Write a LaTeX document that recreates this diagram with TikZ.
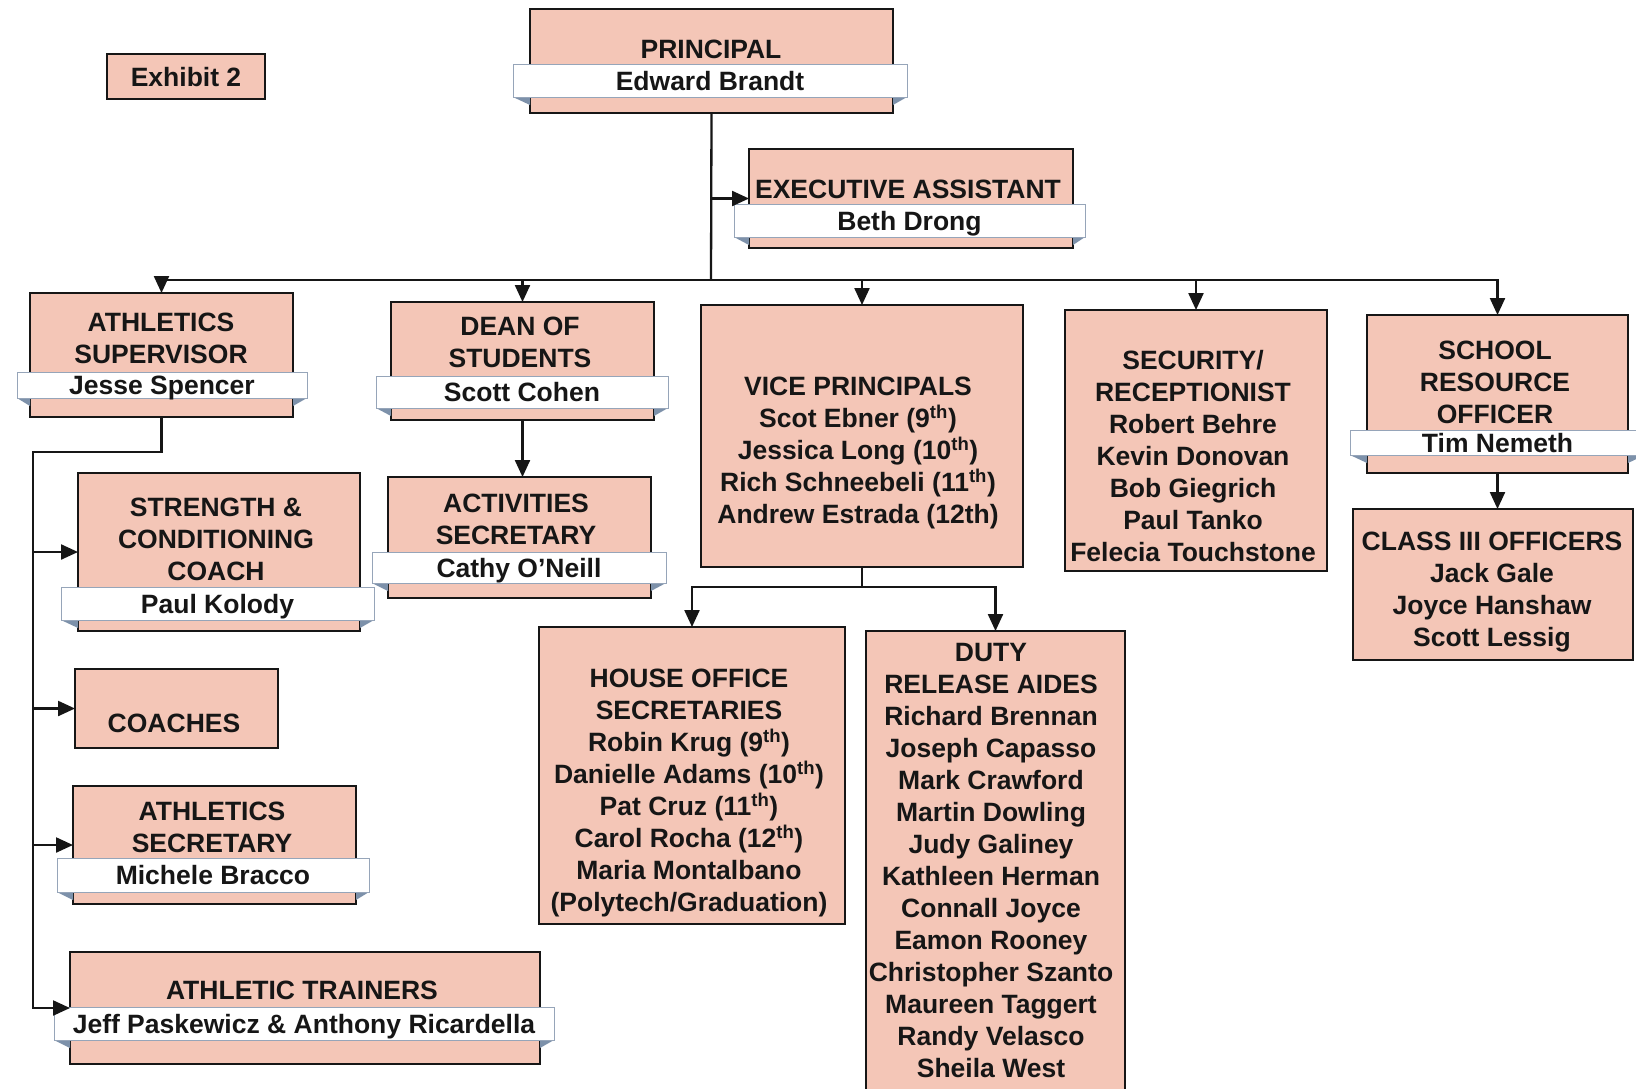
\documentclass[tikz,border=0pt]{standalone}
\usepackage{fontspec}
\setmainfont{Liberation Sans}
\usetikzlibrary{arrows.meta}
\definecolor{pinkc}{RGB}{244,198,183}
\definecolor{ribline}{RGB}{150,165,185}
\definecolor{foldc}{RGB}{125,145,170}
\definecolor{inkc}{RGB}{22,22,22}
\tikzset{
  txt/.style={font=\fontsize{26.5}{32}\selectfont\bfseries, text=inkc, align=center, inner sep=0pt},
  ribtxt/.style={txt, text height=19pt, text depth=0pt},
  pinkbox/.style={draw=inkc, fill=pinkc, line width=1.6pt, inner sep=0pt, outer sep=0pt, anchor=north west},
  ribbon/.style={draw=ribline, fill=white, line width=1pt, inner sep=0pt, outer sep=0pt, anchor=north west},
  conn/.style={draw=inkc, line width=2.3pt},
  arr/.style={conn, -{Triangle[length=17pt,width=15pt]}},
}
% \obox{name}{x1}{y1}{x2}{y2}
\newcommand\obox[5]{\node[pinkbox, minimum width=#4pt-#2pt, minimum height=#5pt-#3pt] (#1) at (#2,#3) {};}
% \orib{name}{box}{x1}{y1}{x2}{y2}{text}
\newcommand\orib[7]{%
  \node[ribbon, minimum width=#5pt-#3pt, minimum height=#6pt-#4pt] (#1) at (#3,#4) {};
  \fill[foldc] (#1.south west) -- (#1.south west -| #2.west) -- ([yshift=-8pt]#1.south west -| #2.west) -- cycle;
  \fill[foldc] (#1.south east) -- (#1.south east -| #2.east) -- ([yshift=-8pt]#1.south east -| #2.east) -- cycle;
  \draw[ribline, line width=1pt, fill=white] (#1.south west) rectangle (#1.north east);
  \node[ribtxt] at (#1.center) {#7};}
\begin{document}
\begin{tikzpicture}[x=1pt,y=-1pt]
\useasboundingbox (0,0) rectangle (1636,1088);
\fill[white] (0,0) rectangle (1636,1088);

% Exhibit
\obox{exh}{107}{54}{265}{99}
\node[ribtxt] at (exh.center) {Exhibit 2};

% Principal
\obox{principal}{530}{9}{893}{113}
\node[ribtxt] at (711,49) {PRINCIPAL};
\orib{principalr}{principal}{513}{64}{907}{97}{Edward Brandt}

% Executive assistant
\obox{exec}{749}{149}{1073}{248}
\node[ribtxt] at (908,189) {EXECUTIVE ASSISTANT};
\orib{execr}{exec}{734}{204}{1085}{237}{Beth Drong}

% Athletics supervisor
\obox{as}{30}{293}{293}{417}
\node[txt] at (161,338) {ATHLETICS\\SUPERVISOR};
\orib{asr}{as}{17}{372}{307}{398}{Jesse Spencer}

% Dean of students
\obox{dean}{391}{302}{654}{420}
\node[txt] at (520,342) {DEAN OF\\STUDENTS};
\orib{deanr}{dean}{376}{376}{668}{408}{Scott Cohen}

% Vice principals
\obox{vp}{701}{305}{1023}{567}
\node[txt] at (858,453) {VICE PRINCIPALS\\Scot Ebner (9\textsuperscript{th})\\Jessica Long (10\textsuperscript{th})\\Rich Schneebeli (11\textsuperscript{th})\\Andrew Estrada (12th)};

% Security
\obox{sec}{1065}{310}{1327}{571}
\node[txt] at (1193,456) {SECURITY/\\RECEPTIONIST\\Robert Behre\\Kevin Donovan\\Bob Giegrich\\Paul Tanko\\Felecia Touchstone};

% School resource officer
\obox{sro}{1367}{315}{1628}{473}
\node[txt] at (1495,382) {SCHOOL\\RESOURCE\\OFFICER};
\orib{sror}{sro}{1350}{430}{1645}{455}{Tim Nemeth}

% Class III
\obox{c3}{1353}{509}{1633}{660}
\node[txt] at (1492,592) {CLASS III OFFICERS\\Jack Gale\\Joyce Hanshaw\\Scott Lessig};

% Strength & conditioning
\obox{sc}{78}{473}{360}{631}
\node[txt] at (216,539) {STRENGTH \&\\CONDITIONING\\COACH};
\orib{scr}{sc}{61}{587}{374}{620}{Paul Kolody}

% Coaches
\obox{coaches}{75}{669}{278}{748}
\node[ribtxt] at (174,723) {COACHES};

% Athletics secretary
\obox{asec}{73}{786}{356}{904}
\node[txt] at (212,827) {ATHLETICS\\SECRETARY};
\orib{asecr}{asec}{57}{858}{369}{892}{Michele Bracco}

% Athletic trainers
\obox{at}{70}{952}{540}{1064}
\node[ribtxt] at (302,990) {ATHLETIC TRAINERS};
\orib{atr}{at}{54}{1007}{554}{1040}{Jeff Paskewicz \& Anthony Ricardella}

% Activities secretary
\obox{actsec}{388}{477}{651}{598}
\node[txt] at (516,519) {ACTIVITIES\\SECRETARY};
\orib{actsecr}{actsec}{372}{552}{666}{583}{Cathy O'Neill}

% House office secretaries
\obox{house}{539}{627}{845}{924}
\node[txt] at (689,793) {HOUSE OFFICE\\SECRETARIES\\Robin Krug (9\textsuperscript{th})\\Danielle Adams (10\textsuperscript{th})\\Pat Cruz (11\textsuperscript{th})\\Carol Rocha (12\textsuperscript{th})\\Maria Montalbano\\(Polytech/Graduation)};

% Duty release aides
\obox{duty}{866}{631}{1125}{1100}
\node[txt] at (991,860) {DUTY\\RELEASE AIDES\\Richard Brennan\\Joseph Capasso\\Mark Crawford\\Martin Dowling\\Judy Galiney\\Kathleen Herman\\Connall Joyce\\Eamon Rooney\\Christopher Szanto\\Maureen Taggert\\Randy Velasco\\Sheila West};

% Connectors
\coordinate (bus) at (711,280);
\draw[conn] (principal.south) -- (bus);
\draw[arr] (principal.south |- exec.west) -- (exec.west);
\draw[conn, line cap=rect] (as.north |- bus) -- (sro.north |- bus);
\foreach \n in {as,dean,vp,sec,sro}{
  \draw[arr] (\n.north |- bus) -- (\n.north);
}
\coordinate (spine) at (33,452);
\draw[arr] (as.south) |- (spine) -- (spine |- at.west) -- (at.west);
\draw[arr] (spine |- sc.west) -- (sc.west);
\draw[arr] (spine |- coaches.west) -- (coaches.west);
\draw[arr] (spine |- asec.west) -- (asec.west);
\draw[arr] (dean.south) -- (dean.south |- actsec.north);
\coordinate (vpj) at ([yshift=-20pt]vp.south);
\draw[conn] (vp.south) -- (vpj);
\draw[arr] (vpj) -| (house.north);
\draw[arr] (vpj) -| (duty.north);
\draw[arr] (sro.south) -- (sro.south |- c3.north);
\end{tikzpicture}
\end{document}
